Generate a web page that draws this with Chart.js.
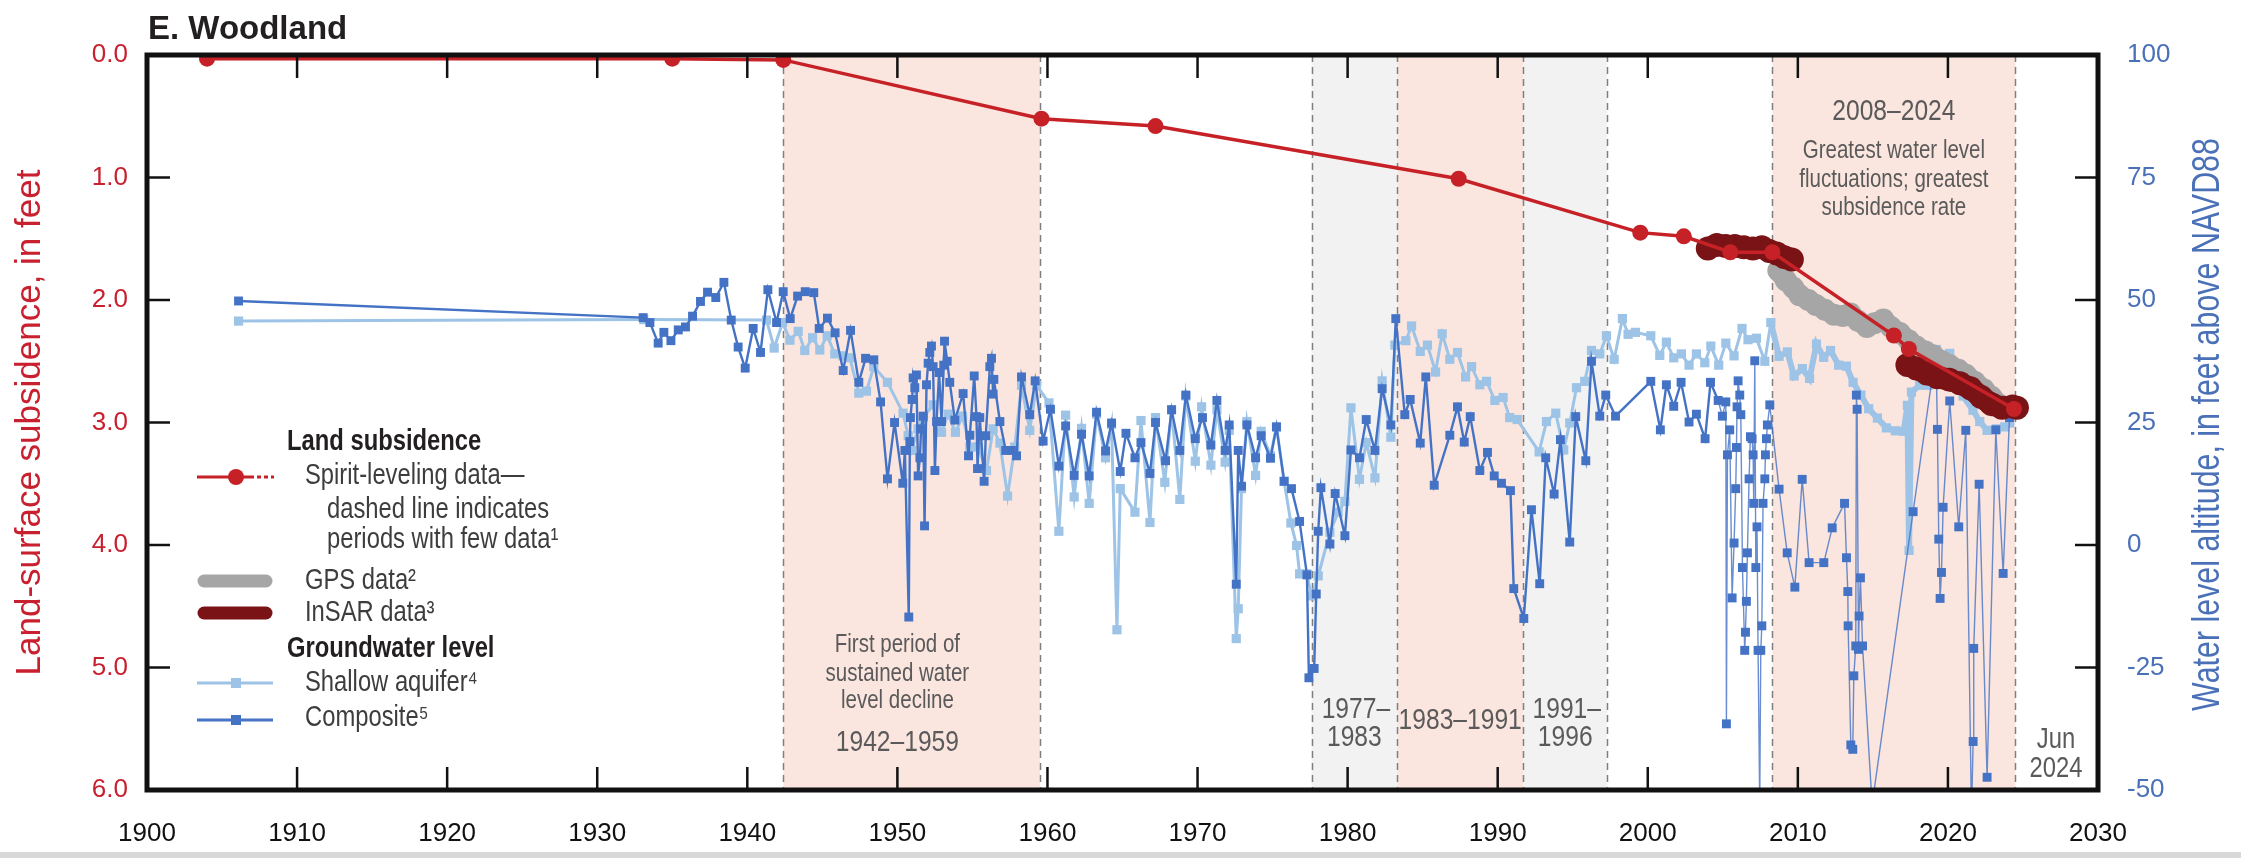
<!DOCTYPE html>
<html><head><meta charset="utf-8">
<script src="https://cdn.jsdelivr.net/npm/chart.js@4/dist/chart.umd.min.js"></script>
<style>
html,body{margin:0;padding:0;background:#d9d9d9;}
#wrap{width:2241px;height:852px;background:#fff;}
canvas{display:block;}
</style></head><body>
<div id="wrap"><canvas id="c" width="2241" height="852"></canvas></div>
<script>
// ---------------- DATA ----------------
const xTickYears = [1900,1910,1920,1930,1940,1950,1960,1970,1980,1990,2000,2010,2020,2030];

// Spirit-leveling (land-surface subsidence, feet)
const spiritYears = [1904.0,1935.0,1942.4,1959.6,1967.2,1987.4,1999.5,2002.4,2005.5,2008.3,2016.4,2017.4,2024.4];
const spiritSubsidence = [0.03,0.03,0.04,0.52,0.58,1.01,1.45,1.48,1.61,1.61,2.29,2.40,2.89];

// GPS (feet)
const gpsYears = [2008.7,2009.2,2009.7,2010.1,2010.7,2011.2,2011.8,2012.4,2013.0,2013.5,2014.0,2014.6,2015.1,2015.7,2016.2,2016.8,2017.4,2017.9,2018.5,2019.0,2019.6,2020.1,2020.7,2021.2,2021.8,2022.4,2022.9,2023.5];
const gpsSubsidence = [1.76,1.84,1.90,1.96,2.00,2.04,2.08,2.12,2.13,2.11,2.17,2.22,2.19,2.16,2.22,2.27,2.33,2.38,2.42,2.45,2.50,2.53,2.57,2.61,2.67,2.73,2.79,2.86];

// InSAR (feet); null separates acquisition periods
const insarYears = [2004.0,2004.6,2005.2,2005.8,2006.4,2006.7,2007.0,2007.6,2008.1,2008.6,2009.1,2009.6,2013.0,2017.3,2017.9,2018.6,2019.3,2020.1,2020.8,2021.5,2022.2,2022.9,2023.6,2024.3,2024.6];
const insarSubsidence = [1.58,1.55,1.56,1.56,1.57,null,1.58,1.57,1.60,1.62,1.65,1.67,null,2.53,2.56,2.60,2.63,2.65,2.68,2.72,2.79,2.85,2.88,2.87,2.88];

// Groundwater level, composite (feet above NAVD88)
const compositeYears = [1906.1,1933.06,1933.51,1934.06,1934.44,1934.91,1935.4,1935.88,1936.35,1936.88,1937.35,1937.9,1938.44,1938.93,1939.39,1939.86,1940.39,1940.88,1941.37,1941.95,1942.39,1942.86,1943.35,1943.86,1944.43,1944.79,1945.34,1945.85,1946.39,1946.88,1947.43,1947.88,1948.43,1948.88,1949.34,1949.81,1950.36,1950.5,1950.76,1950.83,1950.87,1950.98,1951.05,1951.16,1951.27,1951.38,1951.5,1951.58,1951.72,1951.81,1951.94,1952.05,1952.16,1952.27,1952.38,1952.5,1952.61,1952.78,1952.94,1953.09,1953.14,1953.32,1953.49,1953.83,1954.38,1954.74,1954.83,1955.12,1955.27,1955.34,1955.49,1955.78,1955.89,1956.16,1956.27,1956.38,1956.43,1956.83,1957.22,1957.6,1957.94,1958.27,1958.82,1959.18,1959.71,1960.2,1960.76,1961.21,1961.78,1962.27,1962.78,1963.27,1963.87,1964.27,1964.85,1965.23,1965.83,1966.23,1966.83,1967.2,1967.87,1968.27,1968.82,1969.22,1969.85,1970.33,1970.89,1971.29,1971.84,1972.11,1972.58,1972.71,1972.93,1973.29,1973.87,1974.24,1974.86,1975.26,1975.77,1976.26,1976.8,1977.29,1977.42,1977.77,1977.91,1978.04,1978.22,1978.82,1979.17,1979.82,1980.22,1980.79,1981.24,1981.82,1982.3,1982.88,1983.21,1983.81,1984.17,1984.84,1985.21,1985.77,1986.81,1987.32,1987.77,1988.17,1988.81,1989.32,1989.77,1990.25,1990.85,1991.07,1991.74,1992.25,1992.8,1993.2,1993.76,1994.18,1994.8,1995.2,1995.87,1996.25,1996.8,1997.2,1997.85,2000.2,2000.84,2001.24,2001.73,2002.22,2002.75,2003.24,2003.82,2004.18,2004.69,2004.97,2005.2,2005.24,2005.31,2005.46,2005.62,2005.75,2005.86,2005.91,2005.95,2006.02,2006.13,2006.2,2006.31,2006.46,2006.51,2006.57,2006.64,2006.75,2006.84,2006.95,2007.02,2007.06,2007.13,2007.2,2007.28,2007.35,2007.46,2007.53,2007.6,2007.68,2007.8,2007.84,2007.91,2007.97,2008.13,2008.75,2009.29,2009.8,2010.29,2010.75,2011.73,2012.29,2013.11,2013.24,2013.33,2013.35,2013.53,2013.66,2013.73,2013.86,2013.9,2013.95,2014.04,2014.08,2014.17,2014.31,2014.95,2017.68,2019.2,2019.3,2019.39,2019.48,2019.57,2019.68,2020.12,2020.72,2021.19,2021.57,2021.68,2021.72,2022.08,2022.61,2023.19,2023.68,2024.1];
const compositeLevels = [49.8,46.4,45.4,41.2,43.4,41.7,43.9,44.5,46.7,49.7,51.6,50.5,53.6,45.9,40.4,36.1,44.2,39.3,52.1,45.4,51.7,46.2,50.8,51.7,51.5,44.2,46.3,43.3,35.6,43.8,33.2,38.1,37.8,29.2,13.5,25.0,12.6,19.3,-14.7,21.1,26.0,29.7,34.1,32.1,34.7,14.1,17.8,23.7,26.3,3.9,32.7,37.1,39.3,40.6,36.4,15.2,25.2,35.2,25.2,36.7,41.6,37.5,33.2,25.5,30.9,18.2,22.4,34.5,26.2,15.6,26.0,13.0,22.3,36.4,38.1,30.8,33.8,25.2,19.3,19.3,18.2,34.3,26.6,33.5,21.2,27.7,16.1,24.3,14.2,22.6,14.1,27.1,19.2,24.9,15.0,22.8,17.8,20.9,14.6,25.0,17.2,27.6,19.3,30.6,21.7,26.0,20.4,29.5,19.3,24.5,-8.0,19.3,12.0,24.5,17.8,22.3,17.7,24.1,13.0,11.5,4.8,-6.1,-27.1,-25.2,-10.0,2.8,11.7,0.2,10.5,1.9,19.4,17.8,25.6,19.3,31.9,24.5,46.2,26.6,29.7,20.8,34.3,12.2,22.4,28.2,21.0,26.2,15.2,18.9,14.1,12.6,11.1,-8.9,-15.0,7.2,-7.9,17.8,10.4,21.5,0.6,26.2,17.2,37.5,26.3,30.6,26.3,33.4,23.5,32.7,28.3,33.2,25.1,26.7,21.7,33.2,29.5,26.3,29.2,-36.5,18.4,23.5,-10.8,0.4,11.5,19.9,28.2,33.5,30.6,26.6,-4.6,-21.5,-17.8,-11.5,-1.6,13.5,22.1,21.7,18.4,8.5,37.6,-4.6,3.7,-21.5,-53.0,-21.5,-16.5,8.5,13.5,18.4,21.7,24.5,28.6,11.4,-1.6,-8.6,13.4,-3.6,-3.6,3.5,8.5,-2.6,-9.5,-16.5,-40.8,-41.7,-26.7,-20.6,30.6,27.7,-21.3,-14.5,-6.7,-20.6,-53.0,6.8,39.5,23.6,1.2,-10.9,-5.6,7.7,29.4,3.7,23.4,-55.0,-40.1,-21.1,12.4,-47.4,23.5,-5.8,26.0];

// Groundwater level, shallow aquifer (feet above NAVD88)
const shallowYears = [1906.1,1933.1,1941.28,1941.79,1942.35,1942.84,1943.39,1943.83,1944.35,1944.83,1945.32,1945.83,1946.39,1946.83,1947.43,1947.94,1948.43,1949.34,1950.38,1950.72,1950.94,1951.38,1951.72,1952.38,1952.94,1953.38,1953.87,1954.34,1954.83,1955.38,1955.94,1956.38,1956.83,1957.34,1957.82,1958.27,1958.82,1959.27,1960.1,1960.76,1961.21,1961.78,1962.27,1962.78,1963.27,1963.87,1964.27,1964.63,1964.85,1965.83,1966.23,1966.83,1967.2,1967.82,1968.27,1968.82,1969.22,1969.85,1970.27,1970.89,1971.29,1971.84,1972.11,1972.58,1972.71,1972.93,1973.29,1973.87,1974.24,1974.86,1975.26,1975.77,1976.22,1976.6,1976.8,1977.29,1977.6,1978.04,1978.82,1979.37,1979.82,1980.22,1980.79,1981.24,1981.82,1982.3,1982.88,1983.15,1983.88,1984.26,1984.84,1985.32,1985.86,1986.3,1986.81,1987.32,1987.86,1988.26,1988.81,1989.26,1989.81,1990.36,1990.8,1991.3,1992.76,1993.25,1993.87,1994.4,1994.8,1995.25,1995.8,1996.25,1996.8,1997.25,1997.76,1998.31,1998.69,1999.18,2000.2,2000.8,2001.24,2001.73,2002.24,2002.75,2003.24,2003.8,2004.2,2004.73,2005.2,2005.75,2006.28,2006.68,2007.24,2007.8,2008.2,2008.75,2009.3,2009.75,2010.3,2010.78,2011.24,2011.72,2012.18,2012.72,2013.24,2013.68,2014.2,2014.72,2015.3,2015.9,2016.5,2017.05,2017.3,2017.41,2017.57,2018.12,2018.68,2019.23,2019.79,2020.12,2020.6,2021.01,2021.67,2022.12,2022.61,2023.23,2023.78,2024.12];
const shallowLevels = [45.7,46.0,45.9,40.2,45.4,41.8,43.6,39.7,42.3,39.8,42.7,39.0,38.6,38.2,31.0,31.4,36.4,33.2,26.9,22.3,19.3,23.7,26.0,28.6,23.0,26.7,23.0,26.3,20.0,20.0,15.2,23.7,20.8,10.0,20.0,32.6,23.4,32.6,29.0,2.8,26.5,9.8,23.8,8.5,26.7,17.8,24.6,-17.3,11.5,6.7,25.4,4.6,26.0,12.8,27.6,9.3,30.4,17.1,28.2,16.3,27.6,16.9,23.4,-19.1,-13.0,11.5,25.2,14.2,23.2,18.2,24.1,13.0,4.5,-0.1,-5.9,-5.9,-10.4,-6.3,2.6,6.7,8.9,28.0,13.4,20.9,13.7,33.5,22.0,40.8,41.7,44.7,39.5,40.8,35.3,43.1,37.9,39.3,34.3,36.4,32.7,33.4,29.5,30.1,26.0,25.6,19.0,25.2,26.9,19.4,24.9,32.1,33.4,39.7,39.0,42.7,37.9,46.2,43.0,43.4,42.7,38.7,41.4,38.2,39.0,36.7,39.0,37.2,40.6,36.7,41.2,38.6,44.2,41.9,42.2,37.5,45.4,38.5,39.4,34.5,36.0,34.0,41.0,38.3,39.7,36.7,36.5,33.2,30.6,27.8,25.9,23.9,23.3,23.2,28.5,-1.1,31.2,32.6,32.6,39.9,38.8,39.1,35.5,30.4,27.5,25.2,23.4,23.7,24.1,24.9];

// Shaded periods
const periodStarts = [1942.4,1977.6,1983.3,1991.7,2008.3];
const periodEnds   = [1959.5,1983.3,1991.7,1997.3,2024.5];
const periodKinds  = ['decline','recovery','decline','recovery','decline'];

// ---------------- STYLE ----------------
const REGULAR = '"Liberation Sans",Arial,sans-serif';
const NARROW_SCALE = 0.82;
const RED = '#c62127', DARKRED = '#7a1316', GPSGRAY = '#a6a6a6';
const BLUE = '#4472c4', LIGHTBLUE = '#9dc3e6';
const AXISRED = '#c8202f', AXISBLUE = '#4a70b8', NOTE = '#5a5a5a';
const PINK = '#fbe6df', LIGHTGRAY = '#f2f2f2';

const pts = (xs, ys) => xs.map((x,i)=>({x, y: ys[i]}));

function narrowText(ctx, txt, x, y, size, bold, align, rot, squeeze){
  ctx.save();
  ctx.font = `${bold ? 'bold ' : ''}${size}px ${REGULAR}`;
  ctx.translate(x, y);
  if (rot) ctx.rotate(rot);
  ctx.scale(squeeze || NARROW_SCALE, 1);
  ctx.textAlign = align || 'left'; ctx.textBaseline = 'middle';
  ctx.fillText(txt, 0, 0);
  ctx.restore();
}

const bandsPlugin = {
  id: 'bands',
  beforeDraw(chart){
    const c = chart.ctx; c.save(); c.fillStyle='#fff'; c.fillRect(0,0,chart.width,chart.height); c.restore();
  },
  beforeDatasetsDraw(chart){
    const {ctx, chartArea:{top,bottom}, scales:{x}} = chart;
    ctx.save();
    periodStarts.forEach((s,i)=>{
      const x0 = x.getPixelForValue(s), x1 = x.getPixelForValue(periodEnds[i]);
      ctx.fillStyle = periodKinds[i]==='decline' ? PINK : LIGHTGRAY;
      ctx.fillRect(x0, top, x1-x0, bottom-top);
    });
    const edges = Array.from(new Set(periodStarts.concat(periodEnds)));
    ctx.setLineDash([7,5]); ctx.strokeStyle='#7f7f7f'; ctx.lineWidth=1.5;
    edges.forEach(v=>{
      const px = Math.round(x.getPixelForValue(v))+0.5;
      ctx.beginPath(); ctx.moveTo(px, top); ctx.lineTo(px, bottom); ctx.stroke();
    });
    ctx.setLineDash([]);
    ctx.fillStyle = NOTE;
    const note = (txt, yr, py, size) => narrowText(ctx, txt, x.getPixelForValue(yr), py, size, false, 'center');
    const mid = i => (periodStarts[i]+periodEnds[i])/2;
    note('First period of', 1950.0, 645, 25);
    note('sustained water', 1950.0, 674, 25);
    note('level decline', 1950.0, 701, 25);
    note('1942\u20131959', 1950.0, 743, 30);
    note('1977\u2013', mid(1)+0.1, 710, 30);
    note('1983', mid(1), 738, 30);
    note('1983\u20131991', mid(2), 721, 30);
    note('1991\u2013', mid(3)+0.1, 710, 30);
    note('1996', mid(3), 738, 30);
    note('Jun', 2027.2, 740, 29);
    note('2024', 2027.2, 769, 29);
    note('2008\u20132024', mid(4), 112, 30);
    note('Greatest water level', mid(4), 151, 25);
    note('fluctuations; greatest', mid(4), 180, 25);
    note('subsidence rate', mid(4), 208, 25);
    ctx.restore();
  },
  afterDraw(chart){
    const {ctx, chartArea:{top,bottom,left,right}, scales:{x,y,y2}} = chart;
    ctx.save();
    // frame
    ctx.strokeStyle='#111'; ctx.lineWidth=5;
    ctx.strokeRect(left, top, right-left, bottom-top);
    // inward ticks
    ctx.lineWidth=2.5; const TL=23;
    xTickYears.slice(1,-1).forEach(v=>{
      const px = x.getPixelForValue(v);
      ctx.beginPath(); ctx.moveTo(px,bottom); ctx.lineTo(px,bottom-TL); ctx.moveTo(px,top); ctx.lineTo(px,top+TL); ctx.stroke();
    });
    [1,2,3,4,5].forEach(v=>{const py=y.getPixelForValue(v); ctx.beginPath(); ctx.moveTo(left,py); ctx.lineTo(left+TL,py); ctx.stroke();});
    [75,50,25,0,-25].forEach(v=>{const py=y2.getPixelForValue(v); ctx.beginPath(); ctx.moveTo(right,py); ctx.lineTo(right-TL,py); ctx.stroke();});
    // right axis title (reads bottom-to-top, condensed)
    ctx.fillStyle = AXISBLUE;
    narrowText(ctx, 'Water level altitude, in feet above NAVD88', chart.width-32, (top+bottom)/2+2, 38, false, 'center', -Math.PI/2, 0.8);
    // title
    ctx.fillStyle='#231f20'; ctx.textAlign='left'; ctx.textBaseline='alphabetic';
    ctx.font = `bold 33px ${REGULAR}`; ctx.fillText('E. Woodland', 148, 39);
    // legend texts
    ctx.fillStyle='#231f20';
    narrowText(ctx, 'Land subsidence', 287, 442, 29, true);
    narrowText(ctx, 'Groundwater level', 287, 649, 29, true);
    ctx.fillStyle='#3d3d3d';
    narrowText(ctx, 'Spirit-leveling data\u2014', 305, 476, 29);
    narrowText(ctx, 'dashed line indicates', 327, 510, 29);
    narrowText(ctx, 'periods with few data\u00b9', 327, 540, 29);
    narrowText(ctx, 'GPS data\u00b2', 305, 581, 29);
    narrowText(ctx, 'InSAR data\u00b3', 305, 613, 29);
    narrowText(ctx, 'Shallow aquifer\u2074', 305, 683, 29);
    narrowText(ctx, 'Composite\u2075', 305, 718, 29);
    // legend swatches
    ctx.lineCap='butt';
    ctx.strokeStyle=RED; ctx.lineWidth=3;
    ctx.beginPath(); ctx.moveTo(197,477); ctx.lineTo(250,477); ctx.stroke();
    ctx.setLineDash([4,3]); ctx.beginPath(); ctx.moveTo(250,477); ctx.lineTo(274,477); ctx.stroke(); ctx.setLineDash([]);
    ctx.fillStyle=RED; ctx.beginPath(); ctx.arc(236,477,8,0,Math.PI*2); ctx.fill();
    ctx.lineCap='round'; ctx.lineWidth=13;
    ctx.strokeStyle=GPSGRAY; ctx.beginPath(); ctx.moveTo(204,581); ctx.lineTo(266,581); ctx.stroke();
    ctx.strokeStyle=DARKRED; ctx.beginPath(); ctx.moveTo(204,613); ctx.lineTo(266,613); ctx.stroke();
    ctx.lineCap='butt'; ctx.lineWidth=3;
    ctx.strokeStyle=LIGHTBLUE; ctx.beginPath(); ctx.moveTo(197,683); ctx.lineTo(273,683); ctx.stroke();
    ctx.fillStyle=LIGHTBLUE; ctx.fillRect(231,678,10,10);
    ctx.strokeStyle=BLUE; ctx.beginPath(); ctx.moveTo(197,720); ctx.lineTo(273,720); ctx.stroke();
    ctx.fillStyle=BLUE; ctx.fillRect(231,715,10,10);
    ctx.restore();
  }
};

const late = c => c.p0.parsed.x >= 2004.5;

new Chart(document.getElementById('c'), {
  type: 'line',
  data: {
    datasets: [
      { label:'Spirit-leveling data', data: pts(spiritYears, spiritSubsidence), yAxisID:'y', order:0,
        borderColor: RED, backgroundColor: RED, borderWidth:3.5, pointRadius:8, pointBorderWidth:0, pointBackgroundColor:RED },
      { label:'InSAR data', data: pts(insarYears, insarSubsidence), yAxisID:'y', order:1, spanGaps:false,
        borderColor: DARKRED, borderWidth:22, borderCapStyle:'round', borderJoinStyle:'round', pointRadius:12, pointBorderWidth:0, pointBackgroundColor:DARKRED },
      { label:'GPS data', data: pts(gpsYears, gpsSubsidence), yAxisID:'y', order:2,
        borderColor: GPSGRAY, borderWidth:20, borderCapStyle:'round', borderJoinStyle:'round', pointRadius:11, pointBorderWidth:0, pointBackgroundColor:GPSGRAY },
      { label:'Composite', data: pts(compositeYears, compositeLevels), yAxisID:'y2', order:3,
        borderColor: BLUE, borderWidth:2.4, pointStyle:'rect', pointRadius:6.3, pointBorderWidth:0, pointBackgroundColor:BLUE,
        segment: { borderWidth: c => late(c) ? 1.4 : 2.4, borderColor: c => late(c) ? 'rgba(68,114,196,0.8)' : BLUE } },
      { label:'Shallow aquifer', data: pts(shallowYears, shallowLevels), yAxisID:'y2', order:4,
        borderColor: LIGHTBLUE, borderWidth:3, pointStyle:'rect', pointRadius:6.5, pointBorderWidth:0, pointBackgroundColor:LIGHTBLUE,
        segment: { borderWidth: c => c.p0.parsed.x >= 2008 ? 6 : 3 } }
    ]
  },
  options: {
    responsive:false, animation:false, devicePixelRatio:1,
    layout:{ padding:{ top:55, left:0, right:0, bottom:0 } },
    plugins:{ legend:{display:false}, tooltip:{enabled:false}, title:{display:false} },
    elements:{ line:{ tension:0 } },
    scales:{
      x:{ type:'linear', position:'bottom', min:1900, max:2030,
          afterBuildTicks: s => { s.ticks = xTickYears.map(v=>({value:v})); },
          ticks:{ color:'#111', padding:28, font:{family:REGULAR, size:26}, callback: v => String(v), maxRotation:0, autoSkip:false },
          grid:{ display:false, drawTicks:false }, border:{ display:false },
          afterFit: s => { s.height = 62; } },
      y:{ type:'linear', position:'left', reverse:true, min:0, max:6,
          ticks:{ stepSize:1, color:AXISRED, padding:19, font:{family:REGULAR, size:26}, callback: v => Number(v).toFixed(1) },
          grid:{ display:false, drawTicks:false }, border:{ display:false },
          title:{ display:true, text:'Land-surface subsidence, in feet', color:AXISRED, font:{family:REGULAR, size:35, lineHeight:1}, padding:{top:13,bottom:0} },
          afterFit: s => { s.width = 147; } },
      y2:{ type:'linear', position:'right', min:-50, max:100,
          ticks:{ stepSize:25, color:AXISBLUE, padding:29, font:{family:REGULAR, size:26} },
          grid:{ display:false, drawTicks:false }, border:{ display:false },
          title:{ display:false },
          afterFit: s => { s.width = 143; } }
    }
  },
  plugins:[bandsPlugin]
});
</script>
</body></html>
